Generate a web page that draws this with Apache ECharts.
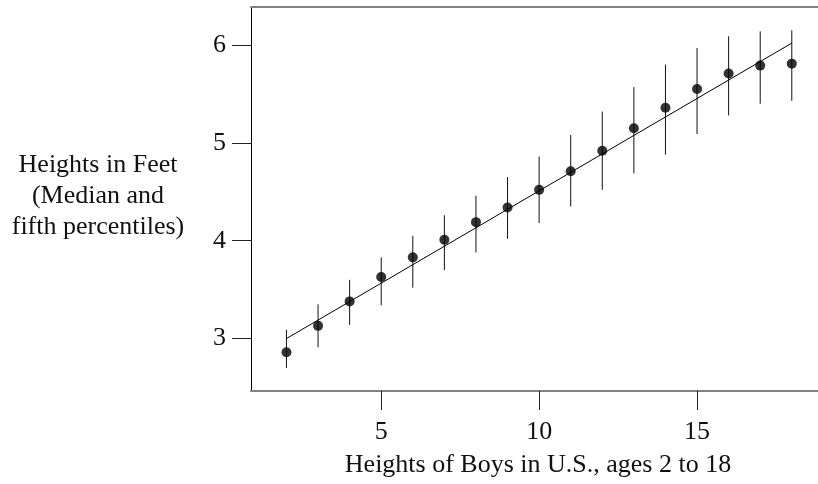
<!DOCTYPE html>
<html>
<head>
<meta charset="utf-8">
<script src="https://cdn.jsdelivr.net/npm/echarts@6/dist/echarts.min.js"></script>
<style>
html,body{margin:0;padding:0;background:#fff;}
#chart{width:818px;height:484px;}
</style>
</head>
<body>
<div id="chart"></div>
<script>
// Data
const ages = [2, 3, 4, 5, 6, 7, 8, 9, 10, 11, 12, 13, 14, 15, 16, 17, 18];
const medianHeight = [2.86, 3.13, 3.38, 3.63, 3.83, 4.01, 4.19, 4.34, 4.52, 4.71, 4.92, 5.15, 5.36, 5.55, 5.71, 5.79, 5.81];
const upperPct = [3.09, 3.35, 3.60, 3.83, 4.05, 4.26, 4.46, 4.65, 4.86, 5.08, 5.32, 5.57, 5.80, 5.97, 6.09, 6.14, 6.15];
const lowerPct = [2.70, 2.91, 3.14, 3.34, 3.52, 3.70, 3.88, 4.02, 4.18, 4.35, 4.52, 4.69, 4.88, 5.09, 5.28, 5.40, 5.43];
const fitAges = [2, 18];
const fitHeights = [3.00, 6.02];
const xTicks = [5, 10, 15];
const yTicks = [3, 4, 5, 6];
const xTitle = 'Heights of Boys in U.S., ages 2 to 18';
const yTitle = 'Heights in Feet\n(Median and\nfifth percentiles)';

const FONT = '"Liberation Serif", "Times New Roman", serif';
const X_MIN = 0.877, X_MAX = 18.83;
const Y_MIN = 2.464, Y_MAX = 6.389;

const chart = echarts.init(document.getElementById('chart'), null, {renderer: 'canvas'});

const pointData = ages.map((a, i) => [a, medianHeight[i]]);
const barData = ages.map((a, i) => [a, lowerPct[i], upperPct[i]]);
const fitData = fitAges.map((a, i) => [a, fitHeights[i]]);

chart.setOption({
  animation: false,
  backgroundColor: '#fff',
  grid: {left: 251, right: 0, top: 7, bottom: 93, containLabel: false},
  xAxis: [{
    type: 'value', position: 'bottom', min: X_MIN, max: X_MAX,
    splitLine: {show: false},
    axisLine: {show: true, lineStyle: {color: '#808080', width: 2}},
    axisTick: {show: true, length: 19, customValues: xTicks, lineStyle: {color: '#222', width: 1}},
    axisLabel: {show: true, customValues: xTicks, margin: 28, color: '#111', fontFamily: FONT, fontSize: 26}
  }, {
    type: 'value', position: 'top', min: X_MIN, max: X_MAX,
    splitLine: {show: false},
    axisLine: {show: true, lineStyle: {color: '#808080', width: 2}},
    axisTick: {show: false}, axisLabel: {show: false}
  }],
  yAxis: [{
    type: 'value', position: 'left', min: Y_MIN, max: Y_MAX,
    splitLine: {show: false},
    axisLine: {show: true, lineStyle: {color: '#000', width: 1}},
    axisTick: {show: true, length: 19, customValues: yTicks, lineStyle: {color: '#222', width: 1}},
    axisLabel: {show: true, customValues: yTicks, margin: 25, color: '#111', fontFamily: FONT, fontSize: 26}
  }],
  graphic: [{
    type: 'text', left: null, x: 538, y: 465,
    style: {text: xTitle, font: '26px ' + FONT, fill: '#111', align: 'center', verticalAlign: 'middle'}
  }, {
    type: 'text', x: 98, y: 196,
    style: {text: yTitle, font: '26px ' + FONT, fill: '#111', align: 'center', verticalAlign: 'middle', lineHeight: 31}
  }],
  series: [{
    type: 'custom',
    data: barData,
    renderItem: function (params, api) {
      const p1 = api.coord([api.value(0), api.value(1)]);
      const p2 = api.coord([api.value(0), api.value(2)]);
      return {type: 'line', shape: {x1: p1[0], y1: p1[1], x2: p2[0], y2: p2[1]}, style: {stroke: '#111', lineWidth: 1}};
    },
    z: 2
  }, {
    type: 'line',
    data: fitData,
    symbol: 'none',
    lineStyle: {color: '#000', width: 1},
    z: 3
  }, {
    type: 'scatter',
    data: pointData,
    symbol: 'circle',
    symbolSize: 10,
    itemStyle: {color: '#000'},
    z: 4
  }]
});
</script>
</body>
</html>
